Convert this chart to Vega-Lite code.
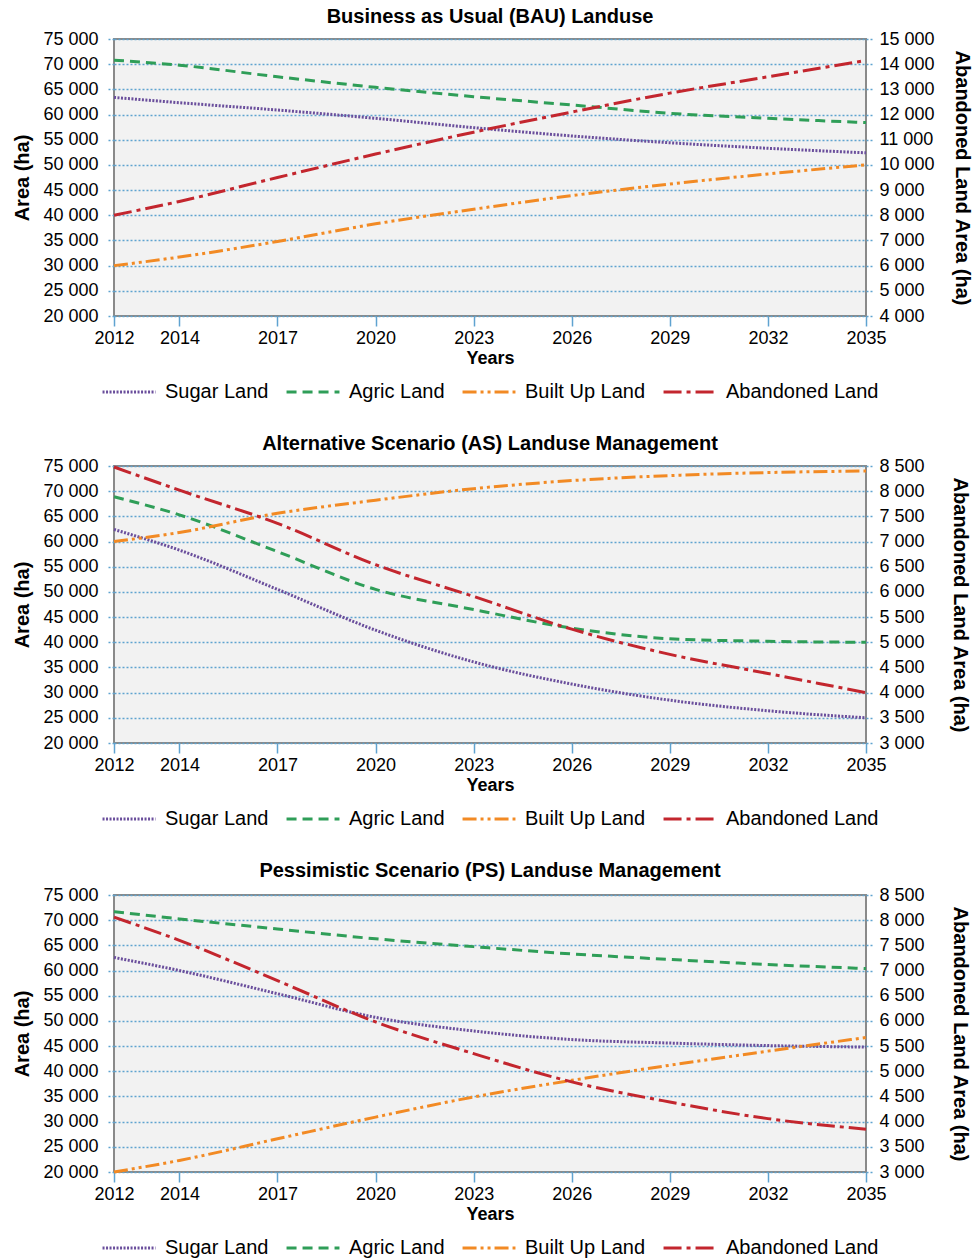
{
  "$schema": "https://vega.github.io/schema/vega-lite/v6.json",
  "padding": {"left": 11, "top": 6, "right": 0, "bottom": 0},
  "background": "white",
  "datasets": {
    "landuse": [
      {"scenario": "BAU", "series": "Sugar Land", "year": 2012, "value": 63400},
      {"scenario": "BAU", "series": "Sugar Land", "year": 2014, "value": 62350},
      {"scenario": "BAU", "series": "Sugar Land", "year": 2017, "value": 60900},
      {"scenario": "BAU", "series": "Sugar Land", "year": 2020, "value": 59250},
      {"scenario": "BAU", "series": "Sugar Land", "year": 2023, "value": 57400},
      {"scenario": "BAU", "series": "Sugar Land", "year": 2026, "value": 55750},
      {"scenario": "BAU", "series": "Sugar Land", "year": 2029, "value": 54400},
      {"scenario": "BAU", "series": "Sugar Land", "year": 2032, "value": 53300},
      {"scenario": "BAU", "series": "Sugar Land", "year": 2035, "value": 52400},
      {"scenario": "BAU", "series": "Agric Land", "year": 2012, "value": 70800},
      {"scenario": "BAU", "series": "Agric Land", "year": 2014, "value": 69800},
      {"scenario": "BAU", "series": "Agric Land", "year": 2017, "value": 67500},
      {"scenario": "BAU", "series": "Agric Land", "year": 2020, "value": 65400},
      {"scenario": "BAU", "series": "Agric Land", "year": 2023, "value": 63550},
      {"scenario": "BAU", "series": "Agric Land", "year": 2026, "value": 61900},
      {"scenario": "BAU", "series": "Agric Land", "year": 2029, "value": 60250},
      {"scenario": "BAU", "series": "Agric Land", "year": 2032, "value": 59250},
      {"scenario": "BAU", "series": "Agric Land", "year": 2035, "value": 58400},
      {"scenario": "BAU", "series": "Built Up Land", "year": 2012, "value": 30000},
      {"scenario": "BAU", "series": "Built Up Land", "year": 2014, "value": 31700},
      {"scenario": "BAU", "series": "Built Up Land", "year": 2017, "value": 34800},
      {"scenario": "BAU", "series": "Built Up Land", "year": 2020, "value": 38300},
      {"scenario": "BAU", "series": "Built Up Land", "year": 2023, "value": 41200},
      {"scenario": "BAU", "series": "Built Up Land", "year": 2026, "value": 43900},
      {"scenario": "BAU", "series": "Built Up Land", "year": 2029, "value": 46200},
      {"scenario": "BAU", "series": "Built Up Land", "year": 2032, "value": 48200},
      {"scenario": "BAU", "series": "Built Up Land", "year": 2035, "value": 50000},
      {"scenario": "BAU", "series": "Abandoned Land", "year": 2012, "value": 8000},
      {"scenario": "BAU", "series": "Abandoned Land", "year": 2014, "value": 8550},
      {"scenario": "BAU", "series": "Abandoned Land", "year": 2017, "value": 9500},
      {"scenario": "BAU", "series": "Abandoned Land", "year": 2020, "value": 10430},
      {"scenario": "BAU", "series": "Abandoned Land", "year": 2023, "value": 11300},
      {"scenario": "BAU", "series": "Abandoned Land", "year": 2026, "value": 12100},
      {"scenario": "BAU", "series": "Abandoned Land", "year": 2029, "value": 12850},
      {"scenario": "BAU", "series": "Abandoned Land", "year": 2032, "value": 13500},
      {"scenario": "BAU", "series": "Abandoned Land", "year": 2035, "value": 14150},

      {"scenario": "AS", "series": "Sugar Land", "year": 2012, "value": 62400},
      {"scenario": "AS", "series": "Sugar Land", "year": 2014, "value": 58300},
      {"scenario": "AS", "series": "Sugar Land", "year": 2017, "value": 50500},
      {"scenario": "AS", "series": "Sugar Land", "year": 2020, "value": 42400},
      {"scenario": "AS", "series": "Sugar Land", "year": 2023, "value": 36100},
      {"scenario": "AS", "series": "Sugar Land", "year": 2026, "value": 31700},
      {"scenario": "AS", "series": "Sugar Land", "year": 2029, "value": 28500},
      {"scenario": "AS", "series": "Sugar Land", "year": 2032, "value": 26400},
      {"scenario": "AS", "series": "Sugar Land", "year": 2035, "value": 25000},
      {"scenario": "AS", "series": "Agric Land", "year": 2012, "value": 68900},
      {"scenario": "AS", "series": "Agric Land", "year": 2014, "value": 65300},
      {"scenario": "AS", "series": "Agric Land", "year": 2017, "value": 58000},
      {"scenario": "AS", "series": "Agric Land", "year": 2020, "value": 50500},
      {"scenario": "AS", "series": "Agric Land", "year": 2023, "value": 46500},
      {"scenario": "AS", "series": "Agric Land", "year": 2026, "value": 42800},
      {"scenario": "AS", "series": "Agric Land", "year": 2029, "value": 40700},
      {"scenario": "AS", "series": "Agric Land", "year": 2032, "value": 40200},
      {"scenario": "AS", "series": "Agric Land", "year": 2035, "value": 40000},
      {"scenario": "AS", "series": "Built Up Land", "year": 2012, "value": 60000},
      {"scenario": "AS", "series": "Built Up Land", "year": 2014, "value": 61800},
      {"scenario": "AS", "series": "Built Up Land", "year": 2017, "value": 65600},
      {"scenario": "AS", "series": "Built Up Land", "year": 2020, "value": 68200},
      {"scenario": "AS", "series": "Built Up Land", "year": 2023, "value": 70500},
      {"scenario": "AS", "series": "Built Up Land", "year": 2026, "value": 72100},
      {"scenario": "AS", "series": "Built Up Land", "year": 2029, "value": 73100},
      {"scenario": "AS", "series": "Built Up Land", "year": 2032, "value": 73700},
      {"scenario": "AS", "series": "Built Up Land", "year": 2035, "value": 74000},
      {"scenario": "AS", "series": "Abandoned Land", "year": 2012, "value": 8480},
      {"scenario": "AS", "series": "Abandoned Land", "year": 2014, "value": 8020},
      {"scenario": "AS", "series": "Abandoned Land", "year": 2017, "value": 7360},
      {"scenario": "AS", "series": "Abandoned Land", "year": 2020, "value": 6540},
      {"scenario": "AS", "series": "Abandoned Land", "year": 2023, "value": 5910},
      {"scenario": "AS", "series": "Abandoned Land", "year": 2026, "value": 5260},
      {"scenario": "AS", "series": "Abandoned Land", "year": 2029, "value": 4760},
      {"scenario": "AS", "series": "Abandoned Land", "year": 2032, "value": 4380},
      {"scenario": "AS", "series": "Abandoned Land", "year": 2035, "value": 4000},

      {"scenario": "PS", "series": "Sugar Land", "year": 2012, "value": 62600},
      {"scenario": "PS", "series": "Sugar Land", "year": 2014, "value": 60000},
      {"scenario": "PS", "series": "Sugar Land", "year": 2017, "value": 55400},
      {"scenario": "PS", "series": "Sugar Land", "year": 2020, "value": 50700},
      {"scenario": "PS", "series": "Sugar Land", "year": 2023, "value": 48000},
      {"scenario": "PS", "series": "Sugar Land", "year": 2026, "value": 46300},
      {"scenario": "PS", "series": "Sugar Land", "year": 2029, "value": 45600},
      {"scenario": "PS", "series": "Sugar Land", "year": 2032, "value": 45100},
      {"scenario": "PS", "series": "Sugar Land", "year": 2035, "value": 44800},
      {"scenario": "PS", "series": "Agric Land", "year": 2012, "value": 71700},
      {"scenario": "PS", "series": "Agric Land", "year": 2014, "value": 70250},
      {"scenario": "PS", "series": "Agric Land", "year": 2017, "value": 68250},
      {"scenario": "PS", "series": "Agric Land", "year": 2020, "value": 66300},
      {"scenario": "PS", "series": "Agric Land", "year": 2023, "value": 64750},
      {"scenario": "PS", "series": "Agric Land", "year": 2026, "value": 63300},
      {"scenario": "PS", "series": "Agric Land", "year": 2029, "value": 62200},
      {"scenario": "PS", "series": "Agric Land", "year": 2032, "value": 61200},
      {"scenario": "PS", "series": "Agric Land", "year": 2035, "value": 60400},
      {"scenario": "PS", "series": "Built Up Land", "year": 2012, "value": 20000},
      {"scenario": "PS", "series": "Built Up Land", "year": 2014, "value": 22300},
      {"scenario": "PS", "series": "Built Up Land", "year": 2017, "value": 26600},
      {"scenario": "PS", "series": "Built Up Land", "year": 2020, "value": 30900},
      {"scenario": "PS", "series": "Built Up Land", "year": 2023, "value": 34900},
      {"scenario": "PS", "series": "Built Up Land", "year": 2026, "value": 38200},
      {"scenario": "PS", "series": "Built Up Land", "year": 2029, "value": 41200},
      {"scenario": "PS", "series": "Built Up Land", "year": 2032, "value": 44000},
      {"scenario": "PS", "series": "Built Up Land", "year": 2035, "value": 46700},
      {"scenario": "PS", "series": "Abandoned Land", "year": 2012, "value": 8060},
      {"scenario": "PS", "series": "Abandoned Land", "year": 2014, "value": 7600},
      {"scenario": "PS", "series": "Abandoned Land", "year": 2017, "value": 6800},
      {"scenario": "PS", "series": "Abandoned Land", "year": 2020, "value": 5980},
      {"scenario": "PS", "series": "Abandoned Land", "year": 2023, "value": 5350},
      {"scenario": "PS", "series": "Abandoned Land", "year": 2026, "value": 4790},
      {"scenario": "PS", "series": "Abandoned Land", "year": 2029, "value": 4390},
      {"scenario": "PS", "series": "Abandoned Land", "year": 2032, "value": 4060},
      {"scenario": "PS", "series": "Abandoned Land", "year": 2035, "value": 3850}
    ]
  },
  "data": {"name": "landuse"},
  "spacing": 30,
  "vconcat": [
    {
      "width": 752,
      "height": 277,
      "title": "Business as Usual (BAU) Landuse",
      "layer": [
        {
          "transform": [{"filter": "datum.scenario === 'BAU' && datum.series !== 'Abandoned Land'"}],
          "mark": {"type": "line", "strokeWidth": 3, "interpolate": "monotone"},
          "encoding": {
            "x": {"field": "year", "type": "quantitative", "title": "Years",
                  "scale": {"domain": [2012, 2035], "nice": false, "zero": false},
                  "axis": {"values": [2012, 2014, 2017, 2020, 2023, 2026, 2029, 2032, 2035], "format": "d"}},
            "y": {"field": "value", "type": "quantitative", "title": "Area (ha)",
                  "scale": {"domain": [20000, 75000], "nice": false, "zero": false},
                  "axis": {"orient": "left", "values": [20000, 25000, 30000, 35000, 40000, 45000, 50000, 55000, 60000, 65000, 70000, 75000]}},
            "color": {"field": "series", "type": "nominal",
                      "scale": {"domain": ["Sugar Land", "Agric Land", "Built Up Land", "Abandoned Land"], "range": ["#6a4e9c", "#2f9e58", "#f28a24", "#c3262e"]}},
            "strokeDash": {"field": "series", "type": "nominal",
                      "scale": {"domain": ["Sugar Land", "Agric Land", "Built Up Land", "Abandoned Land"], "range": [[2, 1.5], [10, 6], [14, 4, 3, 4, 3, 4], [18, 5, 4, 5]]}}
          }
        },
        {
          "transform": [{"filter": "datum.scenario === 'BAU' && datum.series === 'Abandoned Land'"}],
          "mark": {"type": "line", "strokeWidth": 3, "interpolate": "monotone"},
          "encoding": {
            "x": {"field": "year", "type": "quantitative"},
            "y": {"field": "value", "type": "quantitative", "title": "Abandoned Land Area (ha)",
                  "scale": {"domain": [4000, 15000], "nice": false, "zero": false},
                  "axis": {"orient": "right", "grid": false, "titlePadding": 17, "values": [4000, 5000, 6000, 7000, 8000, 9000, 10000, 11000, 12000, 13000, 14000, 15000]}},
            "color": {"field": "series", "type": "nominal",
                      "scale": {"domain": ["Sugar Land", "Agric Land", "Built Up Land", "Abandoned Land"], "range": ["#6a4e9c", "#2f9e58", "#f28a24", "#c3262e"]}},
            "strokeDash": {"field": "series", "type": "nominal",
                      "scale": {"domain": ["Sugar Land", "Agric Land", "Built Up Land", "Abandoned Land"], "range": [[2, 1.5], [10, 6], [14, 4, 3, 4, 3, 4], [18, 5, 4, 5]]}}
          }
        }
      ],
      "resolve": {"scale": {"y": "independent", "color": "shared", "strokeDash": "shared"}}
    },
    {
      "width": 752,
      "height": 277,
      "title": "Alternative Scenario (AS) Landuse Management",
      "layer": [
        {
          "transform": [{"filter": "datum.scenario === 'AS' && datum.series !== 'Abandoned Land'"}],
          "mark": {"type": "line", "strokeWidth": 3, "interpolate": "monotone"},
          "encoding": {
            "x": {"field": "year", "type": "quantitative", "title": "Years",
                  "scale": {"domain": [2012, 2035], "nice": false, "zero": false},
                  "axis": {"values": [2012, 2014, 2017, 2020, 2023, 2026, 2029, 2032, 2035], "format": "d"}},
            "y": {"field": "value", "type": "quantitative", "title": "Area (ha)",
                  "scale": {"domain": [20000, 75000], "nice": false, "zero": false},
                  "axis": {"orient": "left", "values": [20000, 25000, 30000, 35000, 40000, 45000, 50000, 55000, 60000, 65000, 70000, 75000]}},
            "color": {"field": "series", "type": "nominal",
                      "scale": {"domain": ["Sugar Land", "Agric Land", "Built Up Land", "Abandoned Land"], "range": ["#6a4e9c", "#2f9e58", "#f28a24", "#c3262e"]}},
            "strokeDash": {"field": "series", "type": "nominal",
                      "scale": {"domain": ["Sugar Land", "Agric Land", "Built Up Land", "Abandoned Land"], "range": [[2, 1.5], [10, 6], [14, 4, 3, 4, 3, 4], [18, 5, 4, 5]]}}
          }
        },
        {
          "transform": [{"filter": "datum.scenario === 'AS' && datum.series === 'Abandoned Land'"}],
          "mark": {"type": "line", "strokeWidth": 3, "interpolate": "monotone"},
          "encoding": {
            "x": {"field": "year", "type": "quantitative"},
            "y": {"field": "value", "type": "quantitative", "title": "Abandoned Land Area (ha)",
                  "scale": {"domain": [3000, 8500], "nice": false, "zero": false},
                  "axis": {"orient": "right", "grid": false, "titlePadding": 25, "values": [3000, 3500, 4000, 4500, 5000, 5500, 6000, 6500, 7000, 7500, 8000, 8500]}},
            "color": {"field": "series", "type": "nominal",
                      "scale": {"domain": ["Sugar Land", "Agric Land", "Built Up Land", "Abandoned Land"], "range": ["#6a4e9c", "#2f9e58", "#f28a24", "#c3262e"]}},
            "strokeDash": {"field": "series", "type": "nominal",
                      "scale": {"domain": ["Sugar Land", "Agric Land", "Built Up Land", "Abandoned Land"], "range": [[2, 1.5], [10, 6], [14, 4, 3, 4, 3, 4], [18, 5, 4, 5]]}}
          }
        }
      ],
      "resolve": {"scale": {"y": "independent", "color": "shared", "strokeDash": "shared"}}
    },
    {
      "width": 752,
      "height": 277,
      "title": {"text": "Pessimistic Scenario (PS) Landuse Management", "offset": 5},
      "layer": [
        {
          "transform": [{"filter": "datum.scenario === 'PS' && datum.series !== 'Abandoned Land'"}],
          "mark": {"type": "line", "strokeWidth": 3, "interpolate": "monotone"},
          "encoding": {
            "x": {"field": "year", "type": "quantitative", "title": "Years",
                  "scale": {"domain": [2012, 2035], "nice": false, "zero": false},
                  "axis": {"values": [2012, 2014, 2017, 2020, 2023, 2026, 2029, 2032, 2035], "format": "d"}},
            "y": {"field": "value", "type": "quantitative", "title": "Area (ha)",
                  "scale": {"domain": [20000, 75000], "nice": false, "zero": false},
                  "axis": {"orient": "left", "values": [20000, 25000, 30000, 35000, 40000, 45000, 50000, 55000, 60000, 65000, 70000, 75000]}},
            "color": {"field": "series", "type": "nominal",
                      "scale": {"domain": ["Sugar Land", "Agric Land", "Built Up Land", "Abandoned Land"], "range": ["#6a4e9c", "#2f9e58", "#f28a24", "#c3262e"]}},
            "strokeDash": {"field": "series", "type": "nominal",
                      "scale": {"domain": ["Sugar Land", "Agric Land", "Built Up Land", "Abandoned Land"], "range": [[2, 1.5], [10, 6], [14, 4, 3, 4, 3, 4], [18, 5, 4, 5]]}}
          }
        },
        {
          "transform": [{"filter": "datum.scenario === 'PS' && datum.series === 'Abandoned Land'"}],
          "mark": {"type": "line", "strokeWidth": 3, "interpolate": "monotone"},
          "encoding": {
            "x": {"field": "year", "type": "quantitative"},
            "y": {"field": "value", "type": "quantitative", "title": "Abandoned Land Area (ha)",
                  "scale": {"domain": [3000, 8500], "nice": false, "zero": false},
                  "axis": {"orient": "right", "grid": false, "titlePadding": 25, "values": [3000, 3500, 4000, 4500, 5000, 5500, 6000, 6500, 7000, 7500, 8000, 8500]}},
            "color": {"field": "series", "type": "nominal",
                      "scale": {"domain": ["Sugar Land", "Agric Land", "Built Up Land", "Abandoned Land"], "range": ["#6a4e9c", "#2f9e58", "#f28a24", "#c3262e"]}},
            "strokeDash": {"field": "series", "type": "nominal",
                      "scale": {"domain": ["Sugar Land", "Agric Land", "Built Up Land", "Abandoned Land"], "range": [[2, 1.5], [10, 6], [14, 4, 3, 4, 3, 4], [18, 5, 4, 5]]}}
          }
        }
      ],
      "resolve": {"scale": {"y": "independent", "color": "shared", "strokeDash": "shared"}}
    }
  ],
  "resolve": {
    "scale": {"x": "independent", "color": "independent", "strokeDash": "independent"},
    "axis": {"x": "independent"},
    "legend": {"color": "independent", "strokeDash": "independent"}
  },
  "config": {
    "font": "Liberation Sans",
    "view": {"fill": "#f2f2f2", "stroke": "#8a8a8a", "strokeWidth": 2},
    "title": {"font": "Liberation Sans", "fontSize": 20, "fontWeight": "bold", "color": "#000000", "anchor": "middle", "offset": 3},
    "axis": {
      "labelFont": "Liberation Sans", "labelFontSize": 18, "labelColor": "#000000",
      "titleFont": "Liberation Sans", "titleFontSize": 18, "titleFontWeight": "bold", "titleColor": "#000000",
      "domain": false, "labelOverlap": false, "labelFlush": false,
      "labelExpr": "replace(format(datum.value, ','), ',', ' ')"
    },
    "axisX": {"grid": false, "tickColor": "#5fa3d0", "tickSize": 10, "tickWidth": 1.5, "labelPadding": 3, "titlePadding": 2, "labelExpr": "datum.label"},
    "axisY": {"tickColor": "#5fa3d0", "tickDash": [2, 2], "tickSize": 8, "tickWidth": 1.4, "gridColor": "#5fa3d0", "gridDash": [2, 2], "gridWidth": 1.4, "gridOpacity": 1, "labelPadding": 8, "titlePadding": 10, "titleFontSize": 20},
    "axisRight": {"labelPadding": 5},
    "legend": {
      "orient": "bottom", "direction": "horizontal", "title": null, "columns": 4,
      "labelFont": "Liberation Sans", "labelFontSize": 20, "labelColor": "#000000", "labelLimit": 300,
      "symbolSize": 2800, "symbolStrokeWidth": 3, "symbolType": "stroke",
      "columnPadding": 11, "labelOffset": 8, "offset": -3,
      "layout": {"bottom": {"anchor": "middle"}}
    }
  }
}
